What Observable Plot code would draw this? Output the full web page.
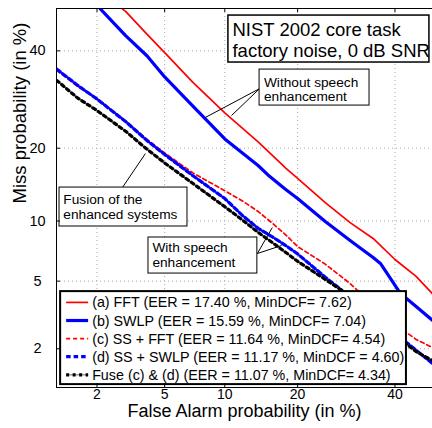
<!DOCTYPE html>
<html>
<head>
<meta charset="utf-8">
<script src="https://cdn.jsdelivr.net/npm/d3@7"></script>
<script src="https://cdn.jsdelivr.net/npm/@observablehq/plot@0.6"></script>
<style>
  html, body { margin: 0; padding: 0; background: #fff; }
  #chart svg { display: block; }
</style>
</head>
<body>
<div id="chart"></div>
<script>
// ---------------- data (percent) ----------------
const faTicks   = [2, 5, 10, 20, 40];
const missTicks = [2, 5, 10, 20, 40];
const faLimits   = [1.077, 48.94];
const missLimits = [1.108, 50.1];

const fftFA    = [2.87, 3, 4, 5, 7, 10, 14, 17.4, 18, 20, 25, 30, 35, 40, 45, 48.9];
const fftMiss  = [50, 49.4, 43.9, 39.6, 32.9, 26.5, 21.1, 17.4, 16.85, 15.3, 12.1, 9.83, 8.27, 6.5, 5.3, 4.27];

const swlpFA   = [2.10, 3, 4, 5, 7, 10, 14, 15.59, 18, 20, 25, 30, 35, 36.65, 41.3, 45, 48.9];
const swlpMiss = [50, 43.6, 38.8, 34.05, 27.9, 21.6, 17.2, 15.59, 13.8, 12.6, 9.94, 8.08, 6.66, 6.2, 4.27, 3.61, 3.0];

const enhFA      = [1.08, 1.5, 2, 3, 4, 5, 7, 10, 12, 14, 16, 18, 20, 25, 30, 35, 40, 45, 48.9];
const ssFftMiss  = [35.5, 32.0, 29.4, 24.9, 21.5, 19.2, 16.1, 13.6, 12.3, 11.05, 9.77, 8.64, 7.55, 6.15, 4.85, 3.70, 2.84, 2.29, 2.04];
const ssSwlpMiss = [35.8, 32.2, 29.3, 24.8, 21.3, 18.95, 15.7, 12.6, 10.6, 9.25, 8.42, 7.66, 6.94, 5.25, 4.09, 3.20, 2.51, 1.96, 1.61];
const fuseMiss   = [33.3, 29.5, 26.96, 22.99, 19.8, 17.6, 14.6, 11.6, 10.11, 8.85, 7.90, 7.08, 6.36, 5.11, 4.14, 3.18, 2.44, 1.92, 1.68];

const seriesLabels = [
  "(a) FFT (EER = 17.40 %, MinDCF= 7.62)",
  "(b) SWLP (EER = 15.59 %, MinDCF= 7.04)",
  "(c) SS + FFT (EER = 11.64 %, MinDCF= 4.54)",
  "(d) SS + SWLP (EER = 11.17 %, MinDCF = 4.60)",
  "Fuse (c) & (d) (EER = 11.07 %, MinDCF= 4.34)"
];

const xLabel = "False Alarm probability (in %)";
const yLabel = "Miss probability (in %)";
const titleText = "NIST 2002 core task\nfactory noise, 0 dB SNR";

// annotations, in data units (percent)
const titleBox   = {fa1: 10.39, fa2: 48.2, miss1: 48.4, miss2: 37.3, tfa: 10.84, tmiss: 42.7};
const withoutBox = {fa1: 14.2, fa2: 34.2, miss1: 35.7, miss2: 27.96, tfa: 14.8, tmiss: 31.4,
                    text: "Without speech\nenhancement"};
const fusionBox  = {fa1: 1.13, fa2: 6.59, miss1: 14.02, miss2: 9.43, tfa: 1.20, tmiss: 11.66,
                    text: "Fusion of the\nenhanced systems"};
const withBox    = {fa1: 4.07, fa2: 13.9, miss1: 8.36, miss2: 5.49, tfa: 4.28, tmiss: 6.84,
                    text: "With speech\nenhancement"};
const leaders = [
  {fa1: 14.2, miss1: 31.5, fa2: 8.1,  miss2: 25.6},
  {fa1: 14.2, miss1: 31.5, fa2: 10.73, miss2: 25.97},
  {fa1: 2.87, miss1: 14.02, fa2: 3.91, miss2: 19.1},
  {fa1: 13.9, miss1: 6.97, fa2: 16.0, miss2: 9.32},
  {fa1: 13.9, miss1: 6.97, fa2: 17.4, miss2: 7.64}
];
const legendBox = {fa1: 1.15, fa2: 42.7, miss1: 4.38, miss2: 1.16};

// ---------------- styles ----------------
const FONT = "'Liberation Sans', Arial, Helvetica, sans-serif";
const styles = [
  {stroke: "#ff0000", strokeWidth: 1.7, strokeDasharray: null},
  {stroke: "#0000ff", strokeWidth: 3.2, strokeDasharray: null},
  {stroke: "#ff0000", strokeWidth: 1.7, strokeDasharray: "4,3"},
  {stroke: "#0000ff", strokeWidth: 3.2, strokeDasharray: "4.5,3"},
  {stroke: "#000000", strokeWidth: 3.2, strokeDasharray: "3,3.5", under: "#8c8c8c"}
];

// ---------------- probit (normal deviate) transform ----------------
function probit(p) {
  const a = [-3.969683028665376e+01, 2.209460984245205e+02, -2.759285104469687e+02, 1.383577518672690e+02, -3.066479806614716e+01, 2.506628277459239e+00];
  const b = [-5.447609879822406e+01, 1.615858368580409e+02, -1.556989798598866e+02, 6.680131188771972e+01, -1.328068155288572e+01];
  const c = [-7.784894002430293e-03, -3.223964580411365e-01, -2.400758277161838e+00, -2.549732539343734e+00, 4.374664141464968e+00, 2.938163982698783e+00];
  const d = [7.784695709041462e-03, 3.224671290700398e-01, 2.445134137142996e+00, 3.754408661907416e+00];
  const pl = 0.02425, ph = 1 - pl;
  let q, r;
  if (p < pl) {
    q = Math.sqrt(-2 * Math.log(p));
    return (((((c[0]*q+c[1])*q+c[2])*q+c[3])*q+c[4])*q+c[5]) / ((((d[0]*q+d[1])*q+d[2])*q+d[3])*q+1);
  }
  if (p <= ph) {
    q = p - 0.5; r = q * q;
    return (((((a[0]*r+a[1])*r+a[2])*r+a[3])*r+a[4])*r+a[5])*q / (((((b[0]*r+b[1])*r+b[2])*r+b[3])*r+b[4])*r+1);
  }
  q = Math.sqrt(-2 * Math.log(1 - p));
  return -(((((c[0]*q+c[1])*q+c[2])*q+c[3])*q+c[4])*q+c[5]) / ((((d[0]*q+d[1])*q+d[2])*q+d[3])*q+1);
}
const P = v => probit(v / 100);

// ---------------- build ----------------
const W = 432, H = 428, ML = 56, MR = 0, MT = 8, MB = 41;
const xz0 = P(faLimits[0]), xz1 = P(faLimits[1]);
const yz0 = P(missLimits[0]), yz1 = P(missLimits[1]);
const kx = (W - ML - MR) / (xz1 - xz0);
const ky = (H - MT - MB) / (yz1 - yz0);
const TICK = 4;

const series = [
  {fa: fftFA, miss: fftMiss},
  {fa: swlpFA, miss: swlpMiss},
  {fa: enhFA, miss: ssFftMiss},
  {fa: enhFA, miss: ssSwlpMiss},
  {fa: enhFA, miss: fuseMiss}
].map((s, i) => ({points: d3.zip(s.fa, s.miss), label: seriesLabels[i], style: styles[i]}));

const curveMarks = [];
series.forEach(s => {
  if (s.style.under) {
    curveMarks.push(Plot.line(s.points, {x: d => P(d[0]), y: d => P(d[1]), stroke: s.style.under, strokeWidth: 1.3, clip: true}));
  }
  curveMarks.push(Plot.line(s.points, {
    x: d => P(d[0]), y: d => P(d[1]),
    stroke: s.style.stroke, strokeWidth: s.style.strokeWidth,
    strokeDasharray: s.style.strokeDasharray, clip: true
  }));
});

const boxMark = (box, sw) => Plot.rect([box], {
  x1: d => P(d.fa1), x2: d => P(d.fa2), y1: d => P(d.miss1), y2: d => P(d.miss2),
  fill: "white", stroke: "black", strokeWidth: sw
});
const boxText = (box, txt, fs, lh) => Plot.text([box], {
  x: d => P(d.tfa), y: d => P(d.tmiss), text: () => txt,
  textAnchor: "start", lineAnchor: "middle", fontSize: fs, lineHeight: lh,
  fill: "black", fontFamily: FONT
});

function legendRender(index, scales) {
  const left = scales.x(P(legendBox.fa1)), right = scales.x(P(legendBox.fa2));
  const top = scales.y(P(legendBox.miss1)), bottom = scales.y(P(legendBox.miss2));
  const g = d3.create("svg:g");
  g.append("rect")
    .attr("x", left).attr("y", top)
    .attr("width", right - left).attr("height", bottom - top)
    .attr("fill", "white").attr("stroke", "black").attr("stroke-width", 2);
  series.forEach((s, i) => {
    const yy = top + 11.3 + i * 18.1;
    if (s.style.under) {
      g.append("line").attr("x1", left + 6).attr("x2", left + 28).attr("y1", yy).attr("y2", yy)
        .attr("stroke", s.style.under).attr("stroke-width", 1.3);
    }
    const ln = g.append("line").attr("x1", left + 6).attr("x2", left + 28).attr("y1", yy).attr("y2", yy)
      .attr("stroke", s.style.stroke).attr("stroke-width", s.style.strokeWidth);
    if (s.style.strokeDasharray) ln.attr("stroke-dasharray", s.style.strokeDasharray);
    g.append("text").attr("x", left + 32).attr("y", yy).attr("dy", "0.35em")
      .attr("text-anchor", "start")
      .attr("font-size", 14.3).attr("font-family", FONT).attr("fill", "black")
      .text(s.label);
  });
  return g.node();
}

const chart = Plot.plot({
  width: W, height: H,
  marginLeft: ML, marginRight: MR, marginTop: MT, marginBottom: MB,
  x: {type: "linear", domain: [xz0, xz1], axis: null},
  y: {type: "linear", domain: [yz0, yz1], axis: null},
  style: {fontFamily: FONT, background: "white", color: "black", overflow: "visible"},
  marks: [
    // dotted grid
    Plot.ruleX(faTicks, {x: d => P(d), stroke: "#a8a8a8", strokeWidth: 1, strokeDasharray: "1,3"}),
    Plot.ruleY(missTicks, {y: d => P(d), stroke: "#a8a8a8", strokeWidth: 1, strokeDasharray: "1,3"}),
    // curves
    ...curveMarks,
    // annotation leaders
    Plot.link(leaders, {x1: d => P(d.fa1), y1: d => P(d.miss1), x2: d => P(d.fa2), y2: d => P(d.miss2),
      stroke: "black", strokeWidth: 1}),
    // annotation boxes
    boxMark(titleBox, 1.5),
    boxText(titleBox, titleText, 18.5, 1.162),
    boxMark(withoutBox, 1),
    boxText(withoutBox, withoutBox.text, 13.7, 1.02),
    boxMark(fusionBox, 1),
    boxText(fusionBox, fusionBox.text, 13.7, 1.095),
    boxMark(withBox, 1),
    boxText(withBox, withBox.text, 13.7, 1.095),
    // legend
    legendRender,
    // axis frame lines (top, bottom, left)
    Plot.ruleY([missLimits[0], missLimits[1]], {y: d => P(d), stroke: "black", strokeWidth: 1}),
    Plot.ruleX([faLimits[0]], {x: d => P(d), stroke: "black", strokeWidth: 1}),
    // inward ticks
    Plot.ruleX(faTicks, {x: d => P(d), y1: () => yz0, y2: () => yz0 + TICK / ky, stroke: "black"}),
    Plot.ruleX(faTicks, {x: d => P(d), y1: () => yz1 - TICK / ky, y2: () => yz1, stroke: "black"}),
    Plot.ruleY(missTicks, {y: d => P(d), x1: () => xz0, x2: () => xz0 + TICK / kx, stroke: "black"}),
    // tick labels
    Plot.text(faTicks, {x: d => P(d), text: d => String(d), frameAnchor: "bottom", dy: 11,
      fontSize: 14, fill: "black", fontFamily: FONT}),
    Plot.text(missTicks, {y: d => P(d), text: d => String(d), frameAnchor: "left", dx: -19,
      textAnchor: "middle", fontSize: 14.5, fill: "black", fontFamily: FONT}),
    // axis labels
    Plot.text([xLabel], {text: d => d, frameAnchor: "bottom", dy: 29.5, fontSize: 18,
      fill: "black", fontFamily: FONT}),
    Plot.text([yLabel], {text: d => d, frameAnchor: "left", dx: -36, dy: 5.5, rotate: -90,
      fontSize: 18.5, fill: "black", fontFamily: FONT})
  ]
});

document.getElementById("chart").appendChild(chart);
</script>
</body>
</html>
